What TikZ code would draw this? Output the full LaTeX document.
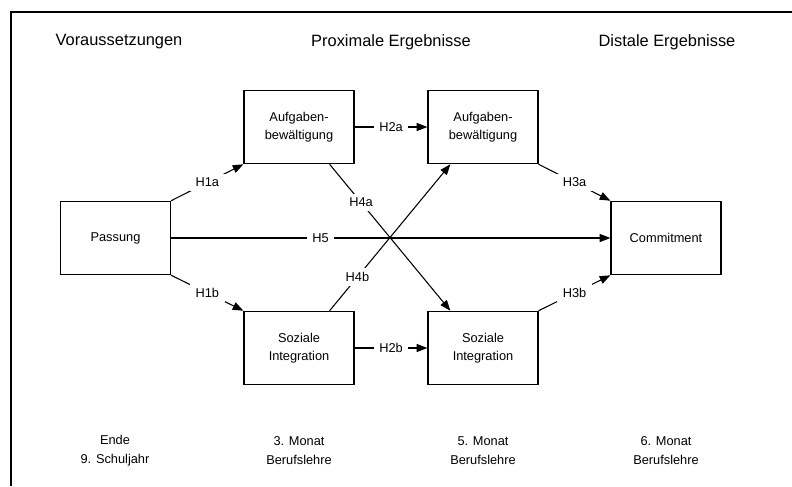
\documentclass[tikz,border=0pt]{standalone}
\usepackage{fontspec}
\setmainfont{Liberation Sans}
\usetikzlibrary{arrows.meta}
\begin{document}
\begin{tikzpicture}[x=0.75pt,y=-0.75pt,
  box/.style={draw, line width=0.9pt, minimum width=82.5pt, minimum height=55pt,
    align=center, inner sep=0pt, font=\fontsize{9.6}{13.75}\selectfont},
  head/.style={font=\fontsize{12.3}{14}\selectfont},
  foot/.style={align=center, font=\fontsize{9.6}{14.25}\selectfont},
  lbl/.style={fill=white, inner xsep=4.2pt, inner ysep=3pt, font=\fontsize{9.6}{11}\selectfont},
  link/.style={line width=0.8pt, -{Triangle[length=8pt,width=6pt]}},
]
\useasboundingbox (0,0) rectangle (792,486);
% open frame (left and top edges)
\draw[line width=1.7pt, line join=miter] (11.3,486) -- (11.3,12.2) -- (792,12.2);

% column headings
\node[head] (hv) at (119,42) {Voraussetzungen};
\node[head] (hp) at (391,42) {Proximale Ergebnisse};
\node[head] (hd) at (667,42) {Distale Ergebnisse};

% boxes
\node[box] (P)  at (115.5,238) {Passung};
\node[box] (A1) at (299,127)   {Aufgaben-\\bewältigung};
\node[box] (S1) at (299,348)   {Soziale\\Integration};
\node[box] (A2) at (483,127)   {Aufgaben-\\bewältigung};
\node[box] (S2) at (483,348)   {Soziale\\Integration};
\node[box] (C)  at (666,238)   {Commitment};

% time points
\node[foot] (t1) at (115,450.5) {Ende\\9. Schuljahr};
\node[foot] (t2) at (299,450.5) {3. Monat\\Berufslehre};
\node[foot] (t3) at (483,450.5) {5. Monat\\Berufslehre};
\node[foot] (t4) at (666,450.5) {6. Monat\\Berufslehre};

% crossing paths (drawn first so labels sit on top)
\draw[link] ([xshift=-18.75pt]A1.south east) -- node[lbl, pos=0.26] {H4a} ([xshift=17.25pt]S2.north west);
\draw[link] ([xshift=-18.75pt]S1.north east) -- node[lbl, pos=0.23] {H4b} ([xshift=17.25pt]A2.south west);

% paths
\draw[link] (P.north east) -- node[lbl] {H1a} (A1.south west);
\draw[link] (P.south east) -- node[lbl] {H1b} (S1.north west);
\draw[link] (A1.east) -- node[lbl] {H2a} (A2.west);
\draw[link] (S1.east) -- node[lbl] {H2b} (S2.west);
\draw[link] (A2.south east) -- node[lbl] {H3a} (C.north west);
\draw[link] (S2.north east) -- node[lbl] {H3b} (C.south west);
\draw[link] (P.east) -- node[lbl, pos=0.34] {H5} (C.west);
\end{tikzpicture}
\end{document}
